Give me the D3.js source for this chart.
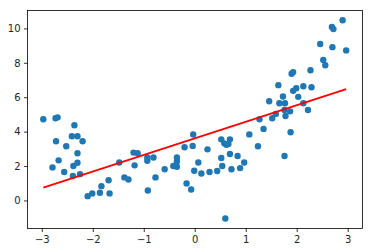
<!DOCTYPE html>
<html>
<head>
<meta charset="utf-8">
<script src="https://cdn.jsdelivr.net/npm/d3@7"></script>
<style>
  html, body { margin: 0; padding: 0; background: #fff; }
  svg { display: block; }
  .tick text { font-family: "DejaVu Sans", sans-serif; font-size: 10px; fill: #262626; }
</style>
</head>
<body>
<svg id="chart" width="372" height="252"></svg>
<script>
// scatter points
const xs = [-2.97, -2.73, -2.69, -2.79, -2.72, -2.67, -2.56, -2.52, -2.36, -2.41,
  -2.30, -2.20, -2.30, -2.38, -2.30, -2.39, -2.25, -2.10, -2.01, -1.86,
  -1.83, -1.69, -1.67, -1.48, -1.38, -1.30, -1.20, -1.12, -1.18, -0.93,
  -0.93, -0.81, -0.77, -0.92, -0.59, -0.42, -0.35, -0.35, -0.35, -0.20,
  -0.16, -0.07, -0.04, -0.03, -0.01, 0.07, 0.13, 0.25, 0.29, 0.44,
  0.52, 0.52, 0.54, 0.58, 0.62, 0.66, 0.69, 0.69, 0.72, 0.84,
  0.89, 0.97, 0.60, 1.07, 1.24, 1.27, 1.35, 1.46, 1.52, 1.59,
  1.64, 1.66, 1.73, 1.76, 1.77, 1.76, 1.78, 1.87, 1.88, 1.90,
  1.93, 1.93, 1.99, 2.03, 2.13, 2.13, 2.22, 2.27, 2.29, 2.46,
  2.52, 2.56, 2.69, 2.72, 2.70, 2.90, 2.97];
const ys = [4.72, 4.78, 4.83, 1.92, 3.44, 2.33, 1.65, 3.15, 4.37, 3.73,
  3.73, 3.44, 2.74, 2.00, 2.19, 1.42, 1.53, 0.25, 0.41, 0.45,
  0.83, 1.17, 0.41, 2.21, 1.34, 1.22, 2.78, 2.74, 2.04, 2.50,
  2.31, 2.50, 1.34, 0.58, 1.81, 2.00, 1.96, 2.50, 2.27, 3.09,
  0.99, 0.64, 3.17, 3.83, 1.73, 2.21, 1.57, 2.97, 1.65, 1.71,
  3.55, 2.47, 2.00, 3.32, 3.24, 3.28, 3.55, 2.70, 1.81, 2.58,
  1.88, 2.21, -1.05, 3.84, 3.15, 4.72, 4.16, 5.77, 4.78, 5.03,
  6.70, 5.65, 6.04, 5.26, 5.65, 2.58, 4.91, 5.18, 3.96, 7.36,
  7.46, 6.37, 6.52, 6.02, 6.64, 5.65, 5.26, 7.57, 6.58, 9.09,
  8.17, 7.86, 10.08, 9.96, 8.91, 10.47, 8.72];

// fitted line (red)
const lineX = [-2.97, 2.97];
const lineY = [0.74, 6.47];

const xTicks = [-3, -2, -1, 0, 1, 2, 3];
const yTicks = [0, 2, 4, 6, 8, 10];

const svg = d3.select('#chart');
const plot = { left: 27.5, right: 362.5, top: 10.5, bottom: 228.5 };

const x = d3.scaleLinear().domain([-3.28, 3.29]).range([plot.left, plot.right]);
const y = d3.scaleLinear().domain([-1.63, 11.04]).range([plot.bottom, plot.top]);

const fmt = d => String(d).replace('-', '\u2212');

// points
svg.append('g')
  .selectAll('circle')
  .data(xs.map((v, i) => [v, ys[i]]))
  .join('circle')
  .attr('cx', d => x(d[0]))
  .attr('cy', d => y(d[1]))
  .attr('r', 3.2)
  .attr('fill', '#1f77b4');

// regression line
svg.append('path')
  .datum(lineX.map((v, i) => [v, lineY[i]]))
  .attr('d', d3.line().x(d => x(d[0])).y(d => y(d[1])))
  .attr('fill', 'none')
  .attr('stroke', '#ff0000')
  .attr('stroke-width', 1.8);

// axes
const xAxis = svg.append('g')
  .attr('transform', `translate(0,${plot.bottom})`)
  .call(d3.axisBottom(x).tickValues(xTicks).tickFormat(fmt).tickSizeInner(3.5).tickSizeOuter(0).tickPadding(3.5));
const yAxis = svg.append('g')
  .attr('transform', `translate(${plot.left},0)`)
  .call(d3.axisLeft(y).tickValues(yTicks).tickFormat(fmt).tickSizeInner(3.5).tickSizeOuter(0).tickPadding(3.5));

[xAxis, yAxis].forEach(a => {
  a.select('.domain').remove();
  a.selectAll('.tick line').attr('stroke', '#000').attr('stroke-width', 0.8);
});

// frame
svg.append('rect')
  .attr('x', plot.left)
  .attr('y', plot.top)
  .attr('width', plot.right - plot.left)
  .attr('height', plot.bottom - plot.top)
  .attr('fill', 'none')
  .attr('stroke', '#000')
  .attr('stroke-width', 0.8);
</script>
</body>
</html>
